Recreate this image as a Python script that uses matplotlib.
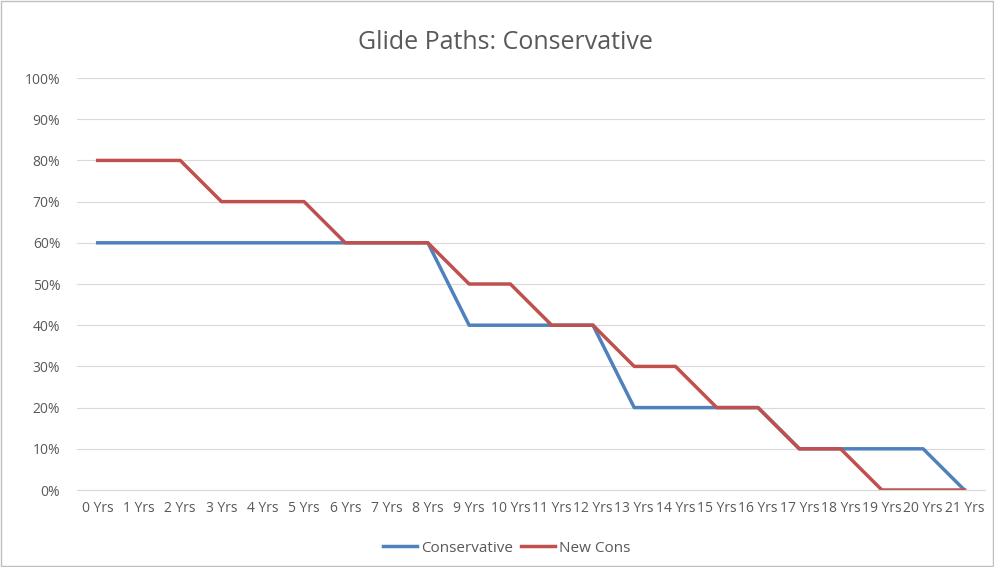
import matplotlib
matplotlib.use('Agg')
import matplotlib.pyplot as plt
from matplotlib.patches import Rectangle

# dane
lata = [str(i) + " Yrs" for i in range(22)]
conservative = [60, 60, 60, 60, 60, 60, 60, 60, 60, 40, 40, 40, 40, 20, 20, 20, 20, 10, 10, 10, 10, 0]
new_cons = [80, 80, 80, 70, 70, 70, 60, 60, 60, 50, 50, 40, 40, 30, 30, 20, 20, 10, 10, 0, 0, 0]
y_ticks = list(range(0, 101, 10))

plt.rcParams['font.family'] = ['Open Sans', 'DejaVu Sans']

fig = plt.figure(figsize=(9.94, 5.67), dpi=100)
ax = fig.add_axes([0.0775, 0.1358, 0.9135, 0.7266])

x = list(range(len(lata)))
ax.plot(x, conservative, color='#4F81BD', lw=2.5, label='Conservative')
ax.plot(x, new_cons, color='#C0504D', lw=2.5, label='New Cons')

ax.set_xlim(-0.5, len(lata) - 0.5)
ax.set_ylim(0, 100)
ax.set_yticks(y_ticks)
ax.set_yticklabels([str(v) + "%" for v in y_ticks])
ax.set_xticks(x)
ax.set_xticklabels(lata)
ax.tick_params(axis='both', length=0, labelsize=10, colors='#595959')
ax.tick_params(axis='x', pad=8)
ax.tick_params(axis='y', pad=12)
ax.grid(axis='y', color='#D9D9D9', lw=0.8)
ax.set_axisbelow(True)
for s in ['top', 'right', 'left']:
    ax.spines[s].set_visible(False)
ax.spines['bottom'].set_color('#D9D9D9')

fig.text(0.508, 0.925, 'Glide Paths: Conservative', ha='center', va='center',
         fontsize=18, color='#595959')

fig.legend(loc='center', bbox_to_anchor=(0.51, 0.033), ncol=2, frameon=False,
           fontsize=11, labelcolor='#595959', handlelength=2.2, handletextpad=0.3,
           columnspacing=0.5)

fig.patches.append(Rectangle((0.001, 0.001), 0.998, 0.998, transform=fig.transFigure,
                             fill=False, edgecolor='#BFBFBF', lw=1))

plt.savefig('out.png')
